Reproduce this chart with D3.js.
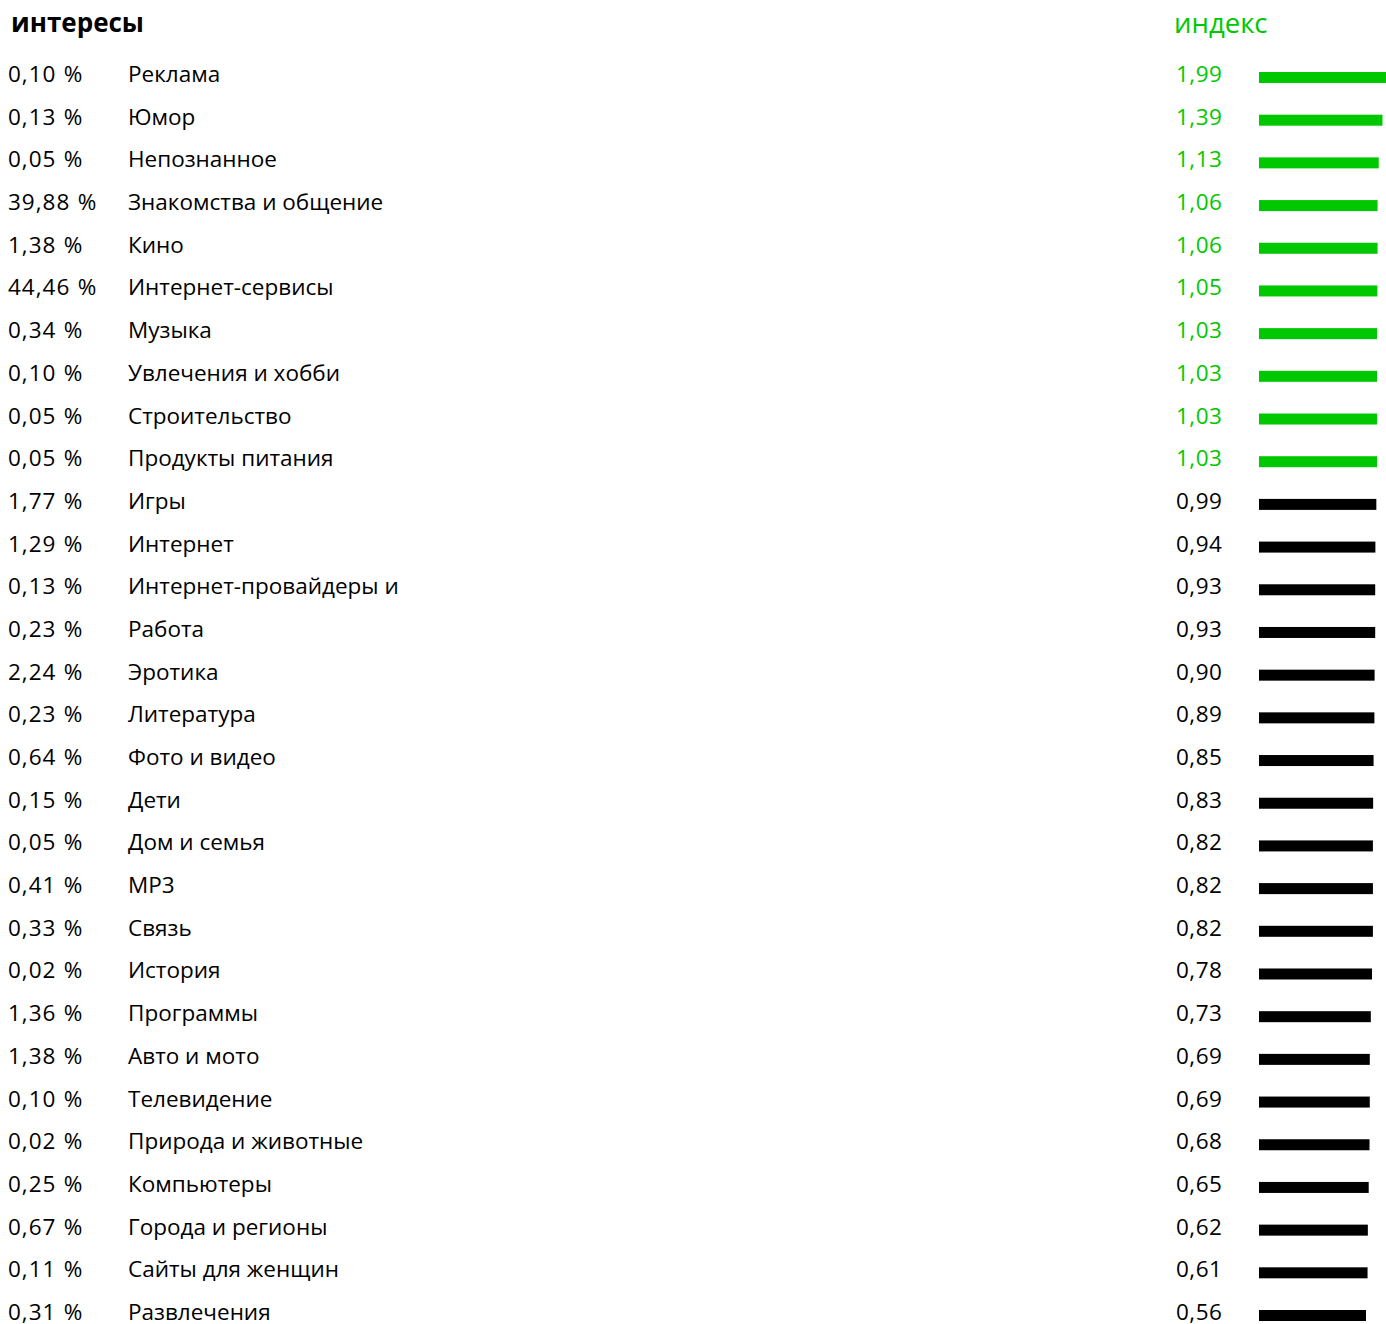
<!DOCTYPE html>
<html>
<head>
<meta charset="utf-8">
<script src="https://cdn.jsdelivr.net/npm/d3@7"></script>
<style>
  html, body { margin: 0; padding: 0; background: #fff; }
  svg { display: block; }
  text { font-family: "Open Sans", "Noto Sans", sans-serif; }
</style>
</head>
<body>
<svg id="chart" width="1386" height="1324"></svg>
<script>
const categories = ["Реклама","Юмор","Непознанное","Знакомства и общение","Кино","Интернет-сервисы","Музыка","Увлечения и хобби","Строительство","Продукты питания","Игры","Интернет","Интернет-провайдеры и","Работа","Эротика","Литература","Фото и видео","Дети","Дом и семья","MP3","Связь","История","Программы","Авто и мото","Телевидение","Природа и животные","Компьютеры","Города и регионы","Сайты для женщин","Развлечения"];
const shares = ["0,10 %","0,13 %","0,05 %","39,88 %","1,38 %","44,46 %","0,34 %","0,10 %","0,05 %","0,05 %","1,77 %","1,29 %","0,13 %","0,23 %","2,24 %","0,23 %","0,64 %","0,15 %","0,05 %","0,41 %","0,33 %","0,02 %","1,36 %","1,38 %","0,10 %","0,02 %","0,25 %","0,67 %","0,11 %","0,31 %"];
const indexValues = [1.99,1.39,1.13,1.06,1.06,1.05,1.03,1.03,1.03,1.03,0.99,0.94,0.93,0.93,0.90,0.89,0.85,0.83,0.82,0.82,0.82,0.78,0.73,0.69,0.69,0.68,0.65,0.62,0.61,0.56];
const titleLeft = "интересы";
const titleRight = "индекс";

const svg = d3.select("#chart");
const GREEN = "#00c800";
const rows = categories.map((c, i) => ({ cat: c, share: shares[i], idx: indexValues[i] }));

const y = d3.scaleBand().domain(categories).range([53, 53 + 42.69 * categories.length]).paddingInner(0);
const barX0 = 1259;
const x = d3.scaleLog().domain([0.56, 1.99]).range([1366, 1389]);
const fmt = v => d3.format(".2f")(v).replace(".", ",");
const col = d => d.idx > 1 ? GREEN : "#000";

svg.append("text").attr("x", 11).attr("y", 32).attr("font-size", 26).attr("font-weight", 700)
  .attr("fill", "#000").text(titleLeft);
svg.append("text").attr("x", 1174).attr("y", 33).attr("font-size", 27.5)
  .attr("fill", GREEN).text(titleRight);

const g = svg.append("g").selectAll("g").data(rows).join("g")
  .attr("transform", d => `translate(0,${y(d.cat)})`);

g.append("text").attr("x", 8).attr("y", 29).attr("font-size", 22.5)
  .attr("letter-spacing", 1).attr("word-spacing", 0.5)
  .attr("fill", "#000").text(d => d.share);
g.append("text").attr("x", 128).attr("y", 29).attr("font-size", 22.5).attr("fill", "#000").text(d => d.cat);
g.append("text").attr("x", 1176).attr("y", 29).attr("font-size", 22.5).attr("letter-spacing", 0.5)
  .attr("fill", col).text(d => fmt(d.idx));
g.append("rect").attr("x", barX0).attr("y", 19).attr("height", 11)
  .attr("width", d => Math.min(x(d.idx), 1386) - barX0).attr("fill", col);
</script>
</body>
</html>
